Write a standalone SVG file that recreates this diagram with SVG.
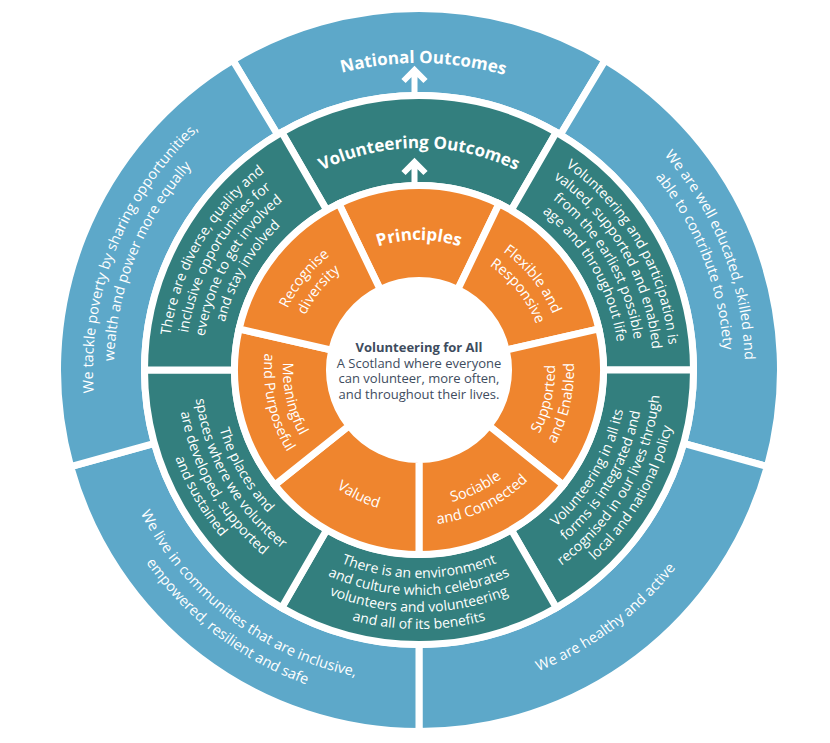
<svg xmlns="http://www.w3.org/2000/svg" width="830" height="743" viewBox="0 0 830 743">
<style>
.seg{stroke:#fff;stroke-width:7}
.blue{fill:#5DA8C9}
.teal{fill:#337F7E}
.orange{fill:#EF852E}
text{font-family:"Open Sans","Noto Sans","Liberation Sans",sans-serif;fill:#fff;text-anchor:middle}
.b{font-size:14.5px}
.t{font-size:14px}
.o{font-size:14.5px}
.h{font-size:17px;font-weight:700}
.c{font-size:13px;fill:#3E4C5E}
.ct{font-size:13px;font-weight:700;fill:#3E4C5E}
.arr{fill:none;stroke:#fff;stroke-width:6}
</style>
<defs>
<path id="u307" d="M116.66,316.69 A307,307 0 0 1 721.34,316.69"/>
<path id="u326" d="M97.95,313.39 A326,326 0 0 1 740.05,313.39"/>
<path id="u305" d="M118.63,317.04 A305,305 0 0 1 719.37,317.04"/>
<path id="u222" d="M200.37,331.45 A222,222 0 0 1 637.63,331.45"/>
<path id="u251" d="M171.81,326.41 A251,251 0 0 1 666.19,326.41"/>
<path id="u234" d="M188.55,329.37 A234,234 0 0 1 649.45,329.37"/>
<path id="u217" d="M205.30,332.32 A217,217 0 0 1 632.70,332.32"/>
<path id="u200" d="M222.04,335.27 A200,200 0 0 1 615.96,335.27"/>
<path id="u130" d="M290.97,347.43 A130,130 0 0 1 547.03,347.43"/>
<path id="u145" d="M276.20,344.82 A145,145 0 0 1 561.80,344.82"/>
<path id="u126" d="M294.91,348.12 A126,126 0 0 1 543.09,348.12"/>
<path id="d324" d="M99.92,426.26 A324,324 0 0 0 738.08,426.26"/>
<path id="d313" d="M110.75,424.35 A313,313 0 0 0 727.25,424.35"/>
<path id="d334" d="M90.07,428.00 A334,334 0 0 0 747.93,428.00"/>
<path id="d208" d="M214.16,406.12 A208,208 0 0 0 623.84,406.12"/>
<path id="d225" d="M197.42,409.07 A225,225 0 0 0 640.58,409.07"/>
<path id="d242" d="M180.68,412.02 A242,242 0 0 0 657.32,412.02"/>
<path id="d259" d="M163.93,414.98 A259,259 0 0 0 674.07,414.98"/>
<path id="d136" d="M285.07,393.62 A136,136 0 0 0 552.93,393.62"/>
<path id="d155" d="M266.35,396.92 A155,155 0 0 0 571.65,396.92"/>
<path id="d144" d="M277.19,395.01 A144,144 0 0 0 560.81,395.01"/>
</defs>
<rect width="830" height="743" fill="#fff"/>

<!-- Blue ring: National Outcomes -->
<g id="national-outcomes">
<path class="seg blue" d="M232.81,60.13 A361.5,361.5 0 0 1 605.19,60.13 L560.38,134.71 A274.5,274.5 0 0 0 277.62,134.71 Z"/>
<text class="h" transform="rotate(0.8 419 370)"><textPath href="#u307" startOffset="50%">National Outcomes</textPath></text>
</g>
<g id="well-educated">
<path class="seg blue" d="M605.19,60.13 A361.5,361.5 0 0 1 767.35,466.61 L683.52,443.36 A274.5,274.5 0 0 0 560.38,134.71 Z"/>
<text class="b" transform="rotate(68.5 419 370)"><textPath href="#u326" startOffset="50%">We are well educated, skilled and</textPath></text>
<text class="b" transform="rotate(68.5 419 370)"><textPath href="#u305" startOffset="50%">able to contribute to society</textPath></text>
</g>
<g id="healthy-active">
<path class="seg blue" d="M767.35,466.61 A361.5,361.5 0 0 1 419,731.5 L419,644.5 A274.5,274.5 0 0 0 683.52,443.36 Z"/>
<text class="b" transform="rotate(-37 419 370)"><textPath href="#d324" startOffset="50%">We are healthy and active</textPath></text>
</g>
<g id="communities">
<path class="seg blue" d="M419,731.5 A361.5,361.5 0 0 1 70.65,466.61 L154.48,443.36 A274.5,274.5 0 0 0 419,644.5 Z"/>
<text class="b" transform="rotate(37.25 419 370)"><textPath href="#d313" startOffset="50%">We live in communities that are inclusive,</textPath></text>
<text class="b" transform="rotate(37.25 419 370)"><textPath href="#d334" startOffset="50%">empowered, resilient and safe</textPath></text>
</g>
<g id="tackle-poverty">
<path class="seg blue" d="M70.65,466.61 A361.5,361.5 0 0 1 232.81,60.13 L277.62,134.71 A274.5,274.5 0 0 0 154.48,443.36 Z"/>
<text class="b" transform="rotate(-68.25 419 370)"><textPath href="#u326" startOffset="50%">We tackle poverty by sharing opportunities,</textPath></text>
<text class="b" transform="rotate(-68.25 419 370)"><textPath href="#u305" startOffset="50%">wealth and power more equally</textPath></text>
</g>

<!-- Teal ring: Volunteering Outcomes -->
<g id="volunteering-outcomes">
<path class="seg teal" d="M281.75,132.28 A274.5,274.5 0 0 1 556.25,132.28 L511.25,210.22 A184.5,184.5 0 0 0 326.75,210.22 Z"/>
<text class="h"><textPath href="#u222" startOffset="50%">Volunteering Outcomes</textPath></text>
</g>
<g id="valued-supported">
<path class="seg teal" d="M556.25,132.28 A274.5,274.5 0 0 1 693.5,370 L603.5,370 A184.5,184.5 0 0 0 511.25,210.22 Z"/>
<g transform="rotate(60 419 370)">
<text class="t"><textPath href="#u251" startOffset="50%">Volunteering and participation is</textPath></text>
<text class="t"><textPath href="#u234" startOffset="50%">valued, supported and enabled</textPath></text>
<text class="t"><textPath href="#u217" startOffset="50%">from the earliest possible</textPath></text>
<text class="t"><textPath href="#u200" startOffset="50%">age and throughout life</textPath></text>
</g>
</g>
<g id="integrated-policy">
<path class="seg teal" d="M693.5,370 A274.5,274.5 0 0 1 556.25,607.72 L511.25,529.78 A184.5,184.5 0 0 0 603.5,370 Z"/>
<g transform="rotate(-60 419 370)">
<text class="t"><textPath href="#d208" startOffset="50%">Volunteering in all its</textPath></text>
<text class="t"><textPath href="#d225" startOffset="50%">forms is integrated and</textPath></text>
<text class="t"><textPath href="#d242" startOffset="50%">recognised in our lives through</textPath></text>
<text class="t"><textPath href="#d259" startOffset="50%">local and national policy</textPath></text>
</g>
</g>
<g id="environment-culture">
<path class="seg teal" d="M556.25,607.72 A274.5,274.5 0 0 1 281.75,607.72 L326.75,529.78 A184.5,184.5 0 0 0 511.25,529.78 Z"/>
<text class="t"><textPath href="#d208" startOffset="50%">There is an environment</textPath></text>
<text class="t"><textPath href="#d225" startOffset="50%">and culture which celebrates</textPath></text>
<text class="t"><textPath href="#d242" startOffset="50%">volunteers and volunteering</textPath></text>
<text class="t"><textPath href="#d259" startOffset="50%">and all of its benefits</textPath></text>
</g>
<g id="places-spaces">
<path class="seg teal" d="M281.75,607.72 A274.5,274.5 0 0 1 144.5,370 L234.5,370 A184.5,184.5 0 0 0 326.75,529.78 Z"/>
<g transform="rotate(60 419 370)">
<text class="t"><textPath href="#d208" startOffset="50%">The places and</textPath></text>
<text class="t"><textPath href="#d225" startOffset="50%">spaces where we volunteer</textPath></text>
<text class="t"><textPath href="#d242" startOffset="50%">are developed, supported</textPath></text>
<text class="t"><textPath href="#d259" startOffset="50%">and sustained</textPath></text>
</g>
</g>
<g id="diverse-opportunities">
<path class="seg teal" d="M144.5,370 A274.5,274.5 0 0 1 281.75,132.28 L326.75,210.22 A184.5,184.5 0 0 0 234.5,370 Z"/>
<g transform="rotate(-60 419 370)">
<text class="t"><textPath href="#u251" startOffset="50%">There are diverse, quality and</textPath></text>
<text class="t"><textPath href="#u234" startOffset="50%">inclusive opportunities for</textPath></text>
<text class="t"><textPath href="#u217" startOffset="50%">everyone to get involved</textPath></text>
<text class="t"><textPath href="#u200" startOffset="50%">and stay involved</textPath></text>
</g>
</g>

<!-- Orange ring: Principles -->
<g id="principles">
<path class="seg orange" d="M338.95,203.77 A184.5,184.5 0 0 1 499.05,203.77 L457.83,289.36 A89.5,89.5 0 0 0 380.17,289.36 Z"/>
<text class="h"><textPath href="#u130" startOffset="50%">Principles</textPath></text>
</g>
<g id="flexible-responsive">
<path class="seg orange" d="M499.05,203.77 A184.5,184.5 0 0 1 598.87,328.95 L506.26,350.08 A89.5,89.5 0 0 0 457.83,289.36 Z"/>
<g transform="rotate(51.4 419 370)">
<text class="o"><textPath href="#u145" startOffset="50%">Flexible and</textPath></text>
<text class="o"><textPath href="#u126" startOffset="50%">Responsive</textPath></text>
</g>
</g>
<g id="supported-enabled">
<path class="seg orange" d="M598.87,328.95 A184.5,184.5 0 0 1 563.25,485.03 L488.97,425.80 A89.5,89.5 0 0 0 506.26,350.08 Z"/>
<g transform="rotate(-77.1 419 370)">
<text class="o"><textPath href="#d136" startOffset="50%">Supported</textPath></text>
<text class="o"><textPath href="#d155" startOffset="50%">and Enabled</textPath></text>
</g>
</g>
<g id="sociable-connected">
<path class="seg orange" d="M563.25,485.03 A184.5,184.5 0 0 1 419,554.5 L419,459.5 A89.5,89.5 0 0 0 488.97,425.80 Z"/>
<g transform="rotate(-25.7 419 370)">
<text class="o"><textPath href="#d136" startOffset="50%">Sociable</textPath></text>
<text class="o"><textPath href="#d155" startOffset="50%">and Connected</textPath></text>
</g>
</g>
<g id="valued">
<path class="seg orange" d="M419,554.5 A184.5,184.5 0 0 1 274.75,485.03 L349.03,425.80 A89.5,89.5 0 0 0 419,459.5 Z"/>
<text class="o" transform="rotate(25.7 419 370)"><textPath href="#d144" startOffset="50%">Valued</textPath></text>
</g>
<g id="meaningful-purposeful">
<path class="seg orange" d="M274.75,485.03 A184.5,184.5 0 0 1 239.13,328.95 L331.74,350.08 A89.5,89.5 0 0 0 349.03,425.80 Z"/>
<g transform="rotate(77.1 419 370)">
<text class="o"><textPath href="#d136" startOffset="50%">Meaningful</textPath></text>
<text class="o"><textPath href="#d155" startOffset="50%">and Purposeful</textPath></text>
</g>
</g>
<g id="recognise-diversity">
<path class="seg orange" d="M239.13,328.95 A184.5,184.5 0 0 1 338.95,203.77 L380.17,289.36 A89.5,89.5 0 0 0 331.74,350.08 Z"/>
<g transform="rotate(-51.4 419 370)">
<text class="o"><textPath href="#u145" startOffset="50%">Recognise</textPath></text>
<text class="o"><textPath href="#u126" startOffset="50%">diversity</textPath></text>
</g>
</g>

<!-- Centre -->
<g id="volunteering-for-all">
<text class="ct" x="419" y="352">Volunteering for All</text>
<text class="c" x="419" y="367.5">A Scotland where everyone</text>
<text class="c" x="419" y="383">can volunteer, more often,</text>
<text class="c" x="419" y="398.5">and throughout their lives.</text>
</g>

<g id="connectors">
<path class="arr" d="M414.5,97 V71 M403.5,81 L414.5,70 L425.5,81"/>
<path class="arr" d="M414.5,189 V163 M403.5,173 L414.5,162 L425.5,173"/>
</g>
</svg>
